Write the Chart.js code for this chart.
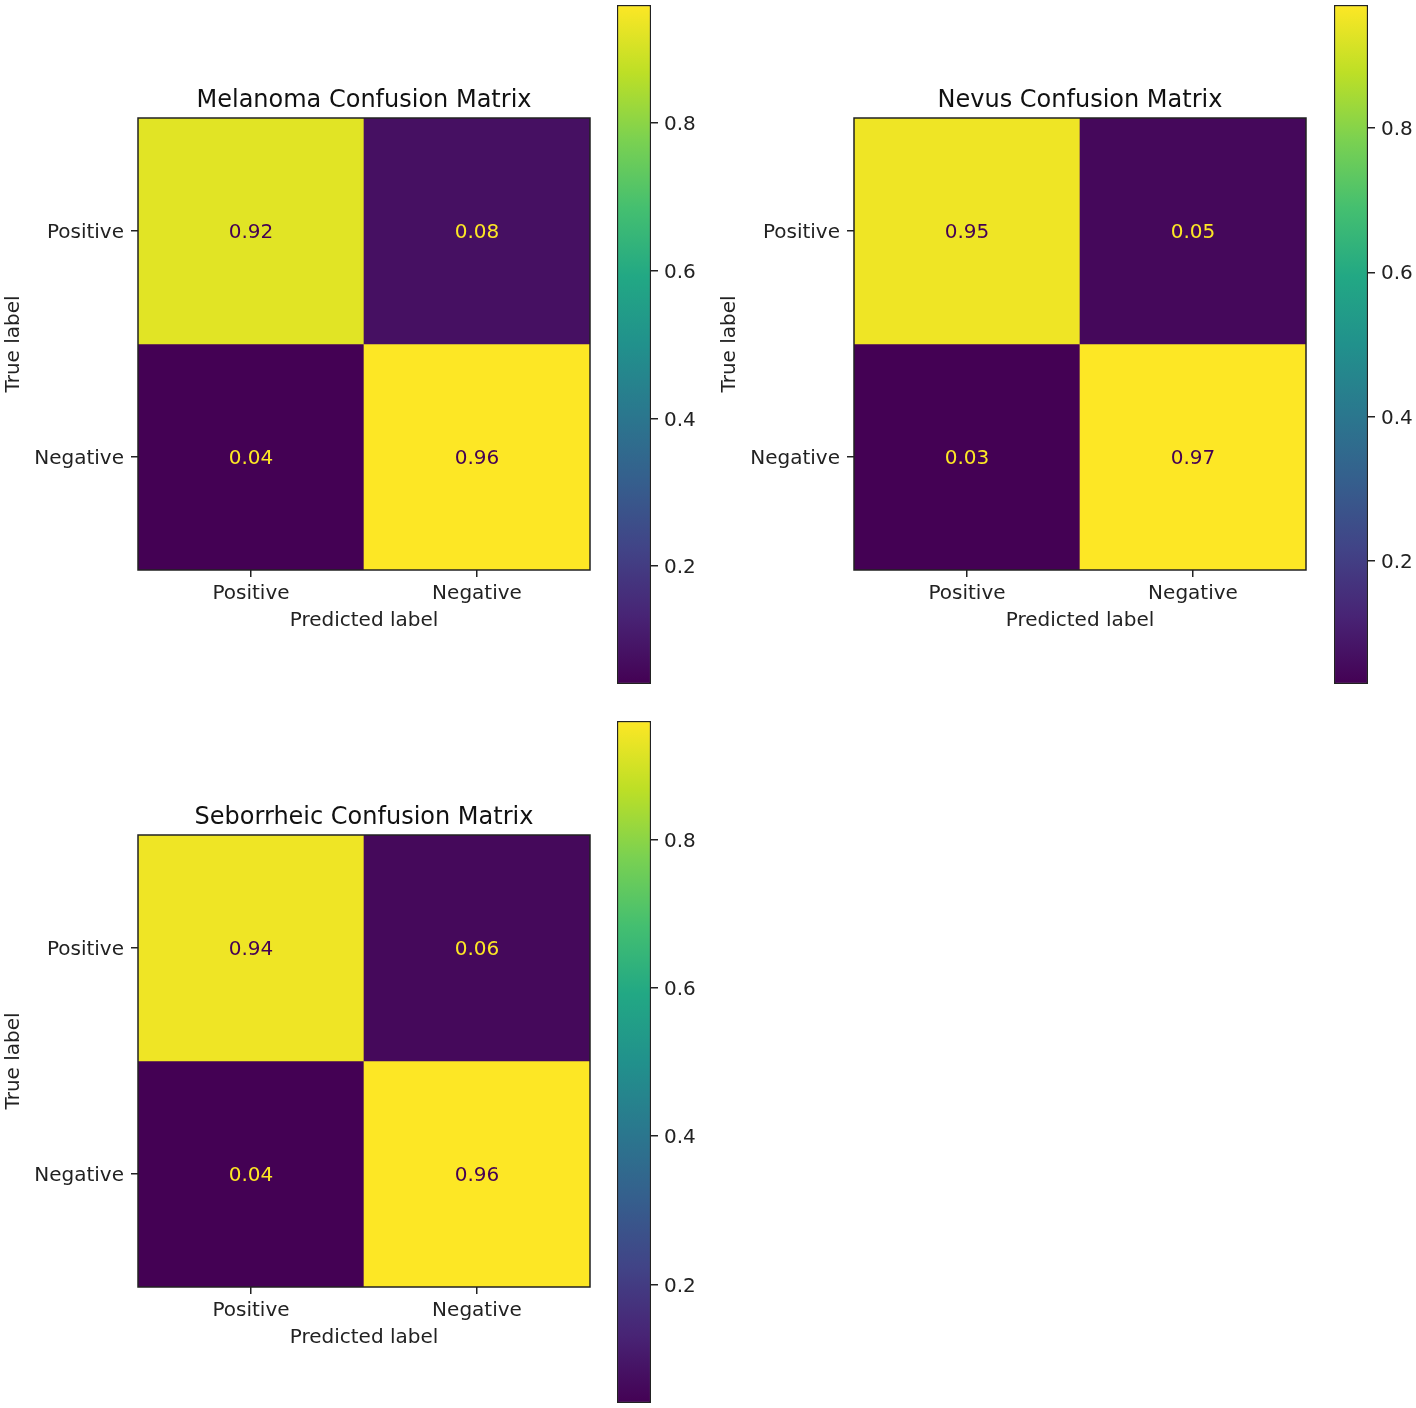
<!DOCTYPE html>
<html>
<head>
<meta charset="utf-8">
<script src="https://cdn.jsdelivr.net/npm/chart.js@4.4.1/dist/chart.umd.min.js"></script>
<style>
  body { margin: 0; background: #fff; }
  #page { position: relative; width: 1416px; height: 1408px; overflow: hidden; }
  canvas { position: absolute; }
</style>
</head>
<body>
<div id="page">
  <canvas id="mel" width="610" height="580" style="left:0;top:70px"></canvas>
  <canvas id="melBar" width="92" height="700" style="left:607px;top:0"></canvas>
  <canvas id="nev" width="610" height="580" style="left:716px;top:70px"></canvas>
  <canvas id="nevBar" width="92" height="700" style="left:1324px;top:0"></canvas>
  <canvas id="seb" width="610" height="580" style="left:0;top:787px"></canvas>
  <canvas id="sebBar" width="92" height="700" style="left:607px;top:716px"></canvas>
</div>
<script>
const predictedLabels = ['Positive', 'Negative'];
const trueLabels = ['Positive', 'Negative'];

// rows = true label, columns = predicted label
const melanomaValues = [[0.92, 0.08], [0.04, 0.96]];
const nevusValues = [[0.95, 0.05], [0.03, 0.97]];
const seborrheicValues = [[0.94, 0.06], [0.04, 0.96]];

const colorbarTicks = [0.2, 0.4, 0.6, 0.8];

Chart.defaults.font.family = '"DejaVu Sans", sans-serif';
Chart.defaults.color = '#222';

// viridis samples at 0, 0.1 ... 1
const viridis = ['#440154', '#482475', '#414487', '#355f8d', '#2a788e', '#21918c',
  '#22a884', '#44bf70', '#7ad151', '#bddf26', '#fde725'];

function hexRgb(h) {
  return [1, 3, 5].map(i => parseInt(h.slice(i, i + 2), 16));
}

function cmap(t) {
  t = Math.max(0, Math.min(1, t));
  const i = Math.min(9, Math.floor(t * 10));
  const f = t * 10 - i;
  const a = hexRgb(viridis[i]), b = hexRgb(viridis[i + 1]);
  const c = a.map((v, k) => Math.round(v + (b[k] - v) * f));
  return `rgb(${c[0]},${c[1]},${c[2]})`;
}

function matrixChart(id, title, values) {
  const flat = values.flat();
  const vmin = Math.min(...flat), vmax = Math.max(...flat);
  const mid = (vmin + vmax) / 2;

  const datasets = trueLabels.map((t, r) => ({
    label: t,
    data: predictedLabels.map(() => [r, r + 1]),
    backgroundColor: values[r].map(v => cmap((v - vmin) / (vmax - vmin))),
    borderWidth: 0,
    grouped: false,
    barPercentage: 1,
    categoryPercentage: 1
  }));

  // frame + numbers in the cells
  const cellText = {
    id: 'cellText',
    afterDatasetsDraw(chart) {
      const { ctx, chartArea, scales: { x, y } } = chart;
      ctx.save();
      ctx.strokeStyle = '#222';
      ctx.lineWidth = 1.5;
      ctx.strokeRect(chartArea.left, chartArea.top, chartArea.width, chartArea.height);
      ctx.font = '20px "DejaVu Sans"';
      ctx.textAlign = 'center';
      ctx.textBaseline = 'middle';
      values.forEach((row, r) => row.forEach((v, c) => {
        ctx.fillStyle = v < mid ? viridis[10] : viridis[0];
        ctx.fillText(v.toFixed(2), x.getPixelForValue(c), y.getPixelForValue(r + 0.5) + 2);
      }));
      ctx.restore();
    }
  };

  new Chart(document.getElementById(id), {
    type: 'bar',
    data: { labels: predictedLabels, datasets },
    options: {
      responsive: false,
      animation: false,
      layout: { padding: { top: 0, left: 0, right: 20, bottom: 0 } },
      plugins: {
        legend: { display: false },
        tooltip: { enabled: false },
        title: {
          display: true, text: title, color: '#111',
          fullSize: false,
          font: { size: 24, weight: 'normal' },
          padding: { top: 16, bottom: 3.2 }
        }
      },
      scales: {
        x: {
          grid: { drawOnChartArea: false, offset: false, tickLength: 7, color: '#222', lineWidth: 1.5 },
          border: { display: false },
          ticks: { font: { size: 20 }, color: '#222', padding: 5, maxRotation: 0 },
          title: { display: true, text: 'Predicted label', font: { size: 20 }, color: '#222', padding: { top: 0, bottom: 17 } },
          afterFit: s => { s.height = 80; }
        },
        y: {
          min: 0, max: 2, reverse: true,
          grid: { drawOnChartArea: false, tickLength: 7, color: '#222', lineWidth: 1.5 },
          border: { display: false },
          afterBuildTicks: s => { s.ticks = trueLabels.map((t, i) => ({ value: i + 0.5 })); },
          ticks: { font: { size: 20 }, color: '#222', padding: 7, labelOffset: 2, callback: (v, i) => trueLabels[i] },
          title: { display: true, text: 'True label', font: { size: 20 }, color: '#222', padding: { top: 2, bottom: 0 } },
          afterFit: s => { s.width = 138; s.paddingTop = 0; s.paddingBottom = 0; }
        }
      }
    },
    plugins: [cellText]
  });
}

function colorbarChart(id, values, padTop, padBottom) {
  const flat = values.flat();
  const vmin = Math.min(...flat), vmax = Math.max(...flat);

  new Chart(document.getElementById(id), {
    type: 'bar',
    data: {
      labels: [''],
      datasets: [{
        data: [[vmin, vmax]],
        backgroundColor: c => {
          const a = c.chart.chartArea;
          if (!a) return viridis[5];
          const g = c.chart.ctx.createLinearGradient(0, a.bottom, 0, a.top);
          viridis.forEach((col, i) => g.addColorStop(i / 10, col));
          return g;
        },
        borderColor: '#222',
        borderWidth: 1.5,
        borderSkipped: false,
        barPercentage: 1,
        categoryPercentage: 1
      }]
    },
    options: {
      responsive: false,
      animation: false,
      layout: { padding: { top: padTop, bottom: padBottom, left: 10, right: 0 } },
      plugins: { legend: { display: false }, tooltip: { enabled: false } },
      scales: {
        x: { display: false },
        y: {
          position: 'right', min: vmin, max: vmax,
          afterBuildTicks: s => { s.ticks = colorbarTicks.map(v => ({ value: v })); },
          grid: { drawOnChartArea: false, tickLength: 7, color: '#222', lineWidth: 1.5 },
          border: { display: false },
          ticks: { font: { size: 20 }, color: '#222', padding: 6, labelOffset: 2, callback: v => v.toFixed(1) },
          afterFit: s => { s.width = 92 - 10 - 34; s.paddingTop = 0; s.paddingBottom = 0; }
        }
      }
    }
  });
}

matrixChart('mel', 'Melanoma Confusion Matrix', melanomaValues);
colorbarChart('melBar', melanomaValues, 5, 16);
matrixChart('nev', 'Nevus Confusion Matrix', nevusValues);
colorbarChart('nevBar', nevusValues, 5, 16);
matrixChart('seb', 'Seborrheic Confusion Matrix', seborrheicValues);
colorbarChart('sebBar', seborrheicValues, 5, 13);
</script>
</body>
</html>
